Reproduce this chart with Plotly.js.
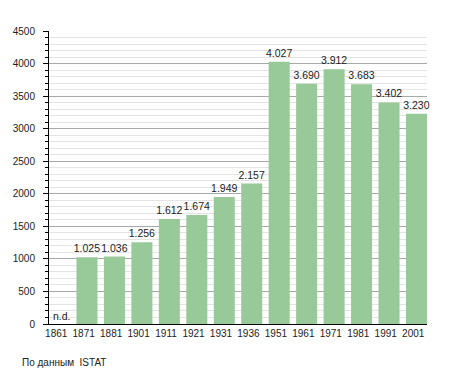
<!DOCTYPE html>
<html>
<head>
<meta charset="utf-8">
<script src="https://cdn.plot.ly/plotly-3.0.1.min.js"></script>
<style>
  html, body { margin: 0; padding: 0; background: #fff; }
  #chart { width: 455px; height: 373px; }
</style>
</head>
<body>
<div id="chart"></div>
<script>
const years = ['1861','1871','1881','1901','1911','1921','1931','1936','1951','1961','1971','1981','1991','2001'];
const population = [null, 1025, 1036, 1256, 1612, 1674, 1949, 2157, 4027, 3690, 3912, 3683, 3402, 3230];
const missingLabel = 'n.d.';
const sourceNote = 'По данным  ISTAT';

function fmt(v) {
  if (v === null) return '';
  const th = Math.floor(v / 1000);
  const rest = String(v % 1000).padStart(3, '0');
  return th > 0 ? th + '.' + rest : String(v);
}

const xs = years.map((_, i) => i);
const labels = population.map(fmt);
const font = 'Liberation Sans, Arial, sans-serif';

const trace = {
  type: 'bar',
  x: xs,
  y: population,
  text: labels,
  textposition: 'outside',
  constraintext: 'none',
  cliponaxis: false,
  textfont: { family: font, size: 10.5, color: '#222' },
  marker: { color: '#98c998', line: { width: 0 } },
  hoverinfo: 'none'
};

const annotations = [];
population.forEach((v, i) => {
  if (v === null) {
    annotations.push({
      x: i, y: 0, xref: 'x', yref: 'y',
      text: missingLabel, showarrow: false,
      xanchor: 'left', yanchor: 'bottom',
      xshift: -9, yshift: 0,
      font: { family: font, size: 10.5, color: '#222' }
    });
  }
});
annotations.push({
  x: 0, y: 0, xref: 'paper', yref: 'paper',
  xanchor: 'left', yanchor: 'middle',
  xshift: -29, yshift: -38,
  text: sourceNote, showarrow: false,
  font: { family: font, size: 10, color: '#222' }
});

const layout = {
  width: 455, height: 373,
  margin: { l: 49, r: 28, t: 31, b: 49 },
  paper_bgcolor: '#fff',
  plot_bgcolor: '#fff',
  showlegend: false,
  bargap: 0.234,
  font: { family: font, size: 10, color: '#222' },
  xaxis: {
    range: [-0.383, 13.383],
    tickmode: 'array',
    tickvals: xs.map(i => i - 0.12),
    ticktext: years,
    ticks: '',
    showgrid: false,
    zeroline: false,
    showline: true,
    linecolor: '#000',
    linewidth: 1,
    tickfont: { family: font, size: 10, color: '#222' },
    fixedrange: true
  },
  yaxis: {
    range: [0, 4500],
    dtick: 500,
    tick0: 0,
    ticks: 'outside',
    ticklen: 5,
    tickcolor: '#000',
    tickwidth: 1,
    ticklabelstandoff: 6,
    showline: true,
    linecolor: '#000',
    linewidth: 1,
    showgrid: true,
    gridcolor: '#a8a8a8',
    gridwidth: 1,
    zeroline: false,
    tickfont: { family: font, size: 10, color: '#222' },
    minor: {
      dtick: 100,
      ticks: 'outside',
      ticklen: 3,
      tickcolor: '#000',
      showgrid: true,
      gridcolor: '#e4e4e4',
      gridwidth: 1
    },
    fixedrange: true
  },
  annotations: annotations
};

Plotly.newPlot('chart', [trace], layout, { displayModeBar: false, staticPlot: true });
</script>
</body>
</html>
